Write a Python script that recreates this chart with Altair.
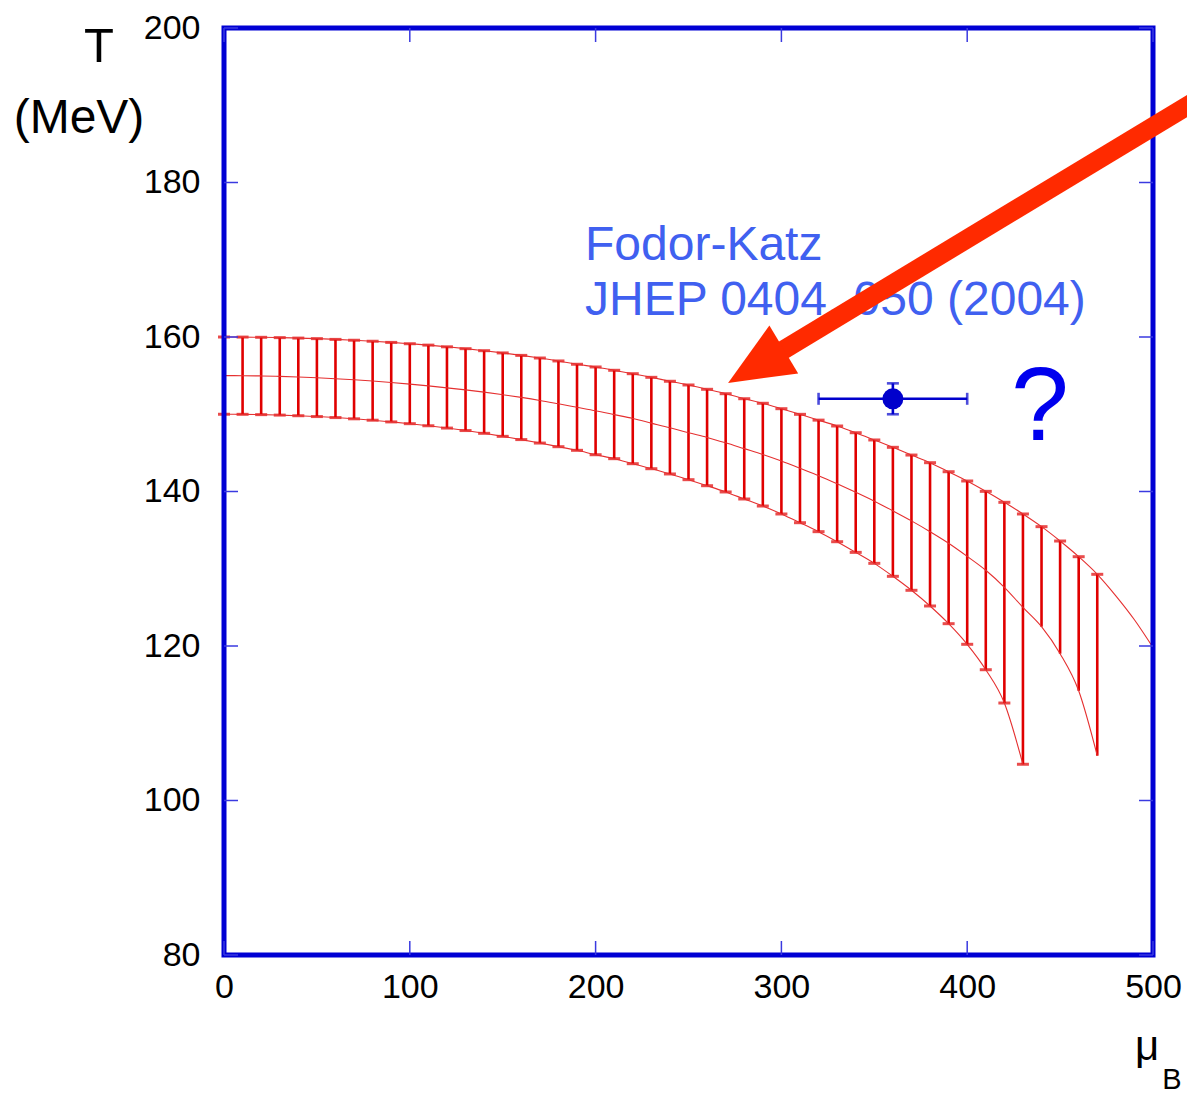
import altair as alt
import pandas as pd

# ---------------- data ----------------
mu_B = list(range(0, 480, 10))
T_upper = [160.0, 159.99, 159.96, 159.92, 159.86, 159.79, 159.69, 159.58, 159.45, 159.3,
           159.13, 158.95, 158.73, 158.49, 158.23, 157.94, 157.62, 157.28, 156.9, 156.47,
           156.12, 155.69, 155.25, 154.78, 154.27, 153.79, 153.23, 152.66, 152.01, 151.42,
           150.72, 149.99, 149.24, 148.48, 147.61, 146.67, 145.72, 144.72, 143.73, 142.56,
           141.36, 140.02, 138.6, 137.09, 135.45, 133.59, 131.56, 129.28]
T_lower = [150.0, 149.99, 149.95, 149.89, 149.81, 149.7, 149.57, 149.41, 149.23, 149.01,
           148.78, 148.51, 148.21, 147.89, 147.53, 147.14, 146.72, 146.27, 145.8, 145.33,
           144.76, 144.25, 143.6, 142.95, 142.27, 141.53, 140.75, 139.94, 139.03, 138.12,
           137.09, 135.96, 134.8, 133.5, 132.12, 130.7, 129.02, 127.21, 125.18, 122.89,
           120.22, 116.93, 112.62, 104.69]
T_center = [155.0, 154.99, 154.96, 154.9, 154.82, 154.72, 154.6, 154.46, 154.3, 154.11,
            153.9, 153.67, 153.42, 153.15, 152.86, 152.53, 152.18, 151.79, 151.35, 150.9,
            150.45, 149.95, 149.45, 148.85, 148.25, 147.6, 147.0, 146.3, 145.55, 144.8,
            143.95, 143.0, 142.05, 141.0, 139.9, 138.75, 137.5, 136.2, 134.8, 133.3,
            131.6, 129.8, 127.6, 125.0, 122.5, 119.0, 114.2, 105.8]
upper_ext_mu = [480, 490, 500]
upper_ext_T = [126.5, 123.4, 119.8]

fk_mu = [360]
fk_T = [152]
fk_mu_err = [40]
fk_T_err = [2]

arrow_shaft_mu = [525.3, 296.7]
arrow_shaft_T = [190.9, 157.7]
arrow_tip_mu = [271.3]
arrow_tip_T = [154.05]

x_ticks = [0, 100, 200, 300, 400, 500]
y_ticks = [80, 100, 120, 140, 160, 180, 200]

ref_lines = ["Fodor-Katz", "JHEP 0404, 050 (2004)"]
question = ["?"]
y_title = ["T", "(MeV)"]
x_title = ["\u03bc", "B"]

# ---------------- tables ----------------
n_low = len(T_lower)
bars = pd.DataFrame({
    "mu": mu_B,
    "hi": T_upper,
    "lo": [T_lower[i] if i < n_low else T_center[i] for i in range(len(mu_B))],
})
low_caps = pd.DataFrame({"mu": mu_B[:n_low], "T": T_lower})
upper_curve = pd.DataFrame({"mu": mu_B + upper_ext_mu, "T": T_upper + upper_ext_T})
lower_curve = pd.DataFrame({"mu": mu_B[:n_low], "T": T_lower})
center_curve = pd.DataFrame({"mu": mu_B, "T": T_center})
fk = pd.DataFrame({"mu": fk_mu, "T": fk_T,
                   "mulo": [m - e for m, e in zip(fk_mu, fk_mu_err)],
                   "muhi": [m + e for m, e in zip(fk_mu, fk_mu_err)],
                   "Tlo": [t - e for t, e in zip(fk_T, fk_T_err)],
                   "Thi": [t + e for t, e in zip(fk_T, fk_T_err)]})
shaft = pd.DataFrame({"mu": arrow_shaft_mu, "T": arrow_shaft_T})
tip = pd.DataFrame({"mu": arrow_tip_mu, "T": arrow_tip_T})

W, H = 929, 927
FONT = "Liberation Sans"
RED = "#e00000"
CURVE = "#e53030"
BLUE = "#0000cc"
FRAME = "#0000d4"
ARROW = "#ff2a00"

xs = alt.Scale(domain=[0, 500], nice=False, zero=False)
ys = alt.Scale(domain=[80, 200], nice=False, zero=False)

x_axis = alt.Axis(values=x_ticks, title=None, domain=False, ticks=False, grid=False,
                  labelFont=FONT, labelFontSize=34, labelColor="black",
                  labelPadding=15, labelFlush=False, labelOverlap=False, labelBound=False)
y_axis = alt.Axis(values=y_ticks, title=None, domain=False, ticks=False, grid=False,
                  labelFont=FONT, labelFontSize=34, labelColor="black",
                  labelPadding=24, labelFlush=False, labelOverlap=False, labelBound=False)


def X(field="mu"):
    return alt.X(f"{field}:Q", scale=xs, axis=x_axis, title=None)


def Y(field="T"):
    return alt.Y(f"{field}:Q", scale=ys, axis=y_axis, title=None)


bar_rules = alt.Chart(bars).mark_rule(color=RED, strokeWidth=2.6).encode(
    x=X("mu"), y=Y("hi"), y2="lo:Q")
top_caps = alt.Chart(bars).mark_tick(color=RED, orient="horizontal", size=12, thickness=3).encode(
    x=X(), y=Y("hi"))
bot_caps = alt.Chart(low_caps).mark_tick(color=RED, orient="horizontal", size=12, thickness=3).encode(
    x=X(), y=Y())

up_line = alt.Chart(upper_curve).mark_line(color=CURVE, strokeWidth=1.1, interpolate="monotone").encode(x=X(), y=Y())
lo_line = alt.Chart(lower_curve).mark_line(color=CURVE, strokeWidth=1.1, interpolate="monotone").encode(x=X(), y=Y())
mid_line = alt.Chart(center_curve).mark_line(color=CURVE, strokeWidth=1.1, interpolate="monotone").encode(x=X(), y=Y())

fk_h = alt.Chart(fk).mark_rule(color=BLUE, strokeWidth=2.6).encode(x=X("mulo"), x2="muhi:Q", y=Y())
fk_v = alt.Chart(fk).mark_rule(color=BLUE, strokeWidth=2.6).encode(x=X(), y=Y("Tlo"), y2="Thi:Q")
fk_cl = alt.Chart(fk).mark_tick(color=BLUE, orient="vertical", size=12, thickness=2.6).encode(x=X("mulo"), y=Y())
fk_cr = alt.Chart(fk).mark_tick(color=BLUE, orient="vertical", size=12, thickness=2.6).encode(x=X("muhi"), y=Y())
fk_cb = alt.Chart(fk).mark_tick(color=BLUE, orient="horizontal", size=12, thickness=2.6).encode(x=X(), y=Y("Tlo"))
fk_ct = alt.Chart(fk).mark_tick(color=BLUE, orient="horizontal", size=12, thickness=2.6).encode(x=X(), y=Y("Thi"))
fk_pt = alt.Chart(fk).mark_point(color=BLUE, filled=True, opacity=1, size=440, shape="circle").encode(x=X(), y=Y())

frame = alt.Chart(pd.DataFrame({"a": [0]})).mark_rect(
    fill="white", fillOpacity=0, stroke=FRAME, strokeWidth=5).encode(
    x=alt.value(0), x2=alt.value(W), y=alt.value(0), y2=alt.value(H))

ytk = pd.DataFrame({"v": y_ticks})
xtk = pd.DataFrame({"v": x_ticks})
TICKC = "#3a3ae0"
tk_l = alt.Chart(ytk).mark_rule(color=TICKC, strokeWidth=1.5).encode(
    y=Y("v"), x=alt.value(0), x2=alt.value(14))
tk_r = alt.Chart(ytk).mark_rule(color=TICKC, strokeWidth=1.5).encode(
    y=Y("v"), x=alt.value(W - 14), x2=alt.value(W))
tk_b = alt.Chart(xtk).mark_rule(color=TICKC, strokeWidth=1.5).encode(
    x=X("v"), y=alt.value(H - 14), y2=alt.value(H))
tk_t = alt.Chart(xtk).mark_rule(color=TICKC, strokeWidth=1.5).encode(
    x=X("v"), y=alt.value(0), y2=alt.value(14))

ref1 = alt.Chart(pd.DataFrame({"t": ref_lines[:1]})).mark_text(
    font=FONT, fontSize=48, color="#4060f0", align="left", baseline="alphabetic").encode(
    text="t:N", x=alt.value(361), y=alt.value(232))
ref2 = alt.Chart(pd.DataFrame({"t": ref_lines[1:]})).mark_text(
    font=FONT, fontSize=48, color="#4060f0", align="left", baseline="alphabetic").encode(
    text="t:N", x=alt.value(361), y=alt.value(287))
qm = alt.Chart(pd.DataFrame({"t": question})).mark_text(
    font=FONT, fontSize=104, color="#0000ee", align="center", baseline="alphabetic").encode(
    text="t:N", x=alt.value(816), y=alt.value(412))

yt1 = alt.Chart(pd.DataFrame({"t": y_title[:1]})).mark_text(
    font=FONT, fontSize=49, color="black", align="center", baseline="alphabetic").encode(
    text="t:N", x=alt.value(-125), y=alt.value(34))
yt2 = alt.Chart(pd.DataFrame({"t": y_title[1:]})).mark_text(
    font=FONT, fontSize=48, color="black", align="center", baseline="alphabetic").encode(
    text="t:N", x=alt.value(-145), y=alt.value(105))
xt1 = alt.Chart(pd.DataFrame({"t": x_title[:1]})).mark_text(
    font=FONT, fontSize=42, color="black", align="center", baseline="alphabetic").encode(
    text="t:N", x=alt.value(923), y=alt.value(1032))
xt2 = alt.Chart(pd.DataFrame({"t": x_title[1:]})).mark_text(
    font=FONT, fontSize=29, color="black", align="center", baseline="alphabetic").encode(
    text="t:N", x=alt.value(948), y=alt.value(1061))

arrow_shaft = alt.Chart(shaft).mark_line(color=ARROW, strokeWidth=19, strokeCap="butt").encode(x=X(), y=Y())
arrow_head = alt.Chart(tip).mark_point(
    shape="M0,0 L0.86,2 L-0.86,2 Z", filled=True, opacity=1, size=4225, angle=239,
    color=ARROW, strokeWidth=0).encode(x=X(), y=Y())

chart = alt.layer(
    bar_rules, top_caps, bot_caps, up_line, lo_line, mid_line,
    fk_h, fk_v, fk_cl, fk_cr, fk_cb, fk_ct, fk_pt,
    frame, tk_l, tk_r, tk_b, tk_t,
    ref1, ref2, qm, yt1, yt2, xt1, xt2,
    arrow_shaft, arrow_head,
).properties(
    width=W, height=H,
    autosize=alt.AutoSizeParams(type="none"),
    padding={"left": 224, "top": 28, "right": 34, "bottom": 140},
    background="white",
).configure_view(stroke=None)

chart.save("out.html", embed_options={"renderer": "svg", "actions": False})
